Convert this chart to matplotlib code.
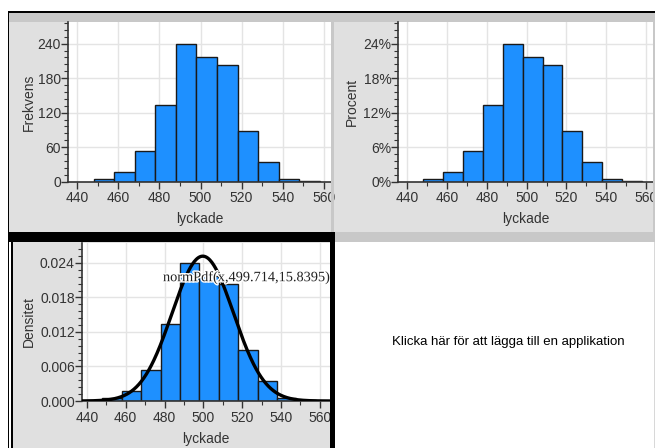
import numpy as np
import matplotlib
matplotlib.use("Agg")
import matplotlib.pyplot as plt
from matplotlib.patches import Rectangle
from matplotlib.ticker import MultipleLocator, FuncFormatter
import matplotlib.patheffects as pe

# data: histogram of "lyckade", bin width 10
bin_edges = [448, 458, 468, 478, 488, 498, 508, 518, 528, 538, 548, 558]
counts = [5, 17, 54, 134, 240, 217, 203, 88, 35, 5, 2]
norm_mu = 499.714
norm_sigma = 15.8395
x_ticks = [440, 460, 480, 500, 520, 540, 560]

W, H = 655, 448
BLUE = "#1e90ff"
PANEL = "#e0e0e0"
HEADER = "#c8c8c8"
GRID = "#e4e4e4"
INK = "#333333"

plt.rcParams["font.family"] = ["Liberation Sans", "DejaVu Sans"]

fig = plt.figure(figsize=(W / 100, H / 100), dpi=100)
fig.patch.set_facecolor("white")


def box(x0, y0, x1, y1):
    return [x0 / W, 1 - y1 / H, (x1 - x0) / W, (y1 - y0) / H]


def rect(x0, y0, x1, y1, color, z=-1):
    b = box(x0, y0, x1, y1)
    fig.add_artist(Rectangle((b[0], b[1]), b[2], b[3], transform=fig.transFigure,
                             facecolor=color, edgecolor="none", zorder=z))


# panel backgrounds
rect(9, 13, 331, 232, PANEL)
rect(334, 13, 655, 232, PANEL)
rect(9, 13, 655, 22, HEADER)
rect(335, 232, 655, 242, HEADER)
rect(12, 242, 330, 448, PANEL)
# separators and borders (drawn on top so labels get clipped like the screen)
rect(331, 13, 334, 232, HEADER, z=5)
rect(653, 22, 655, 232, HEADER, z=5)
rect(653.5, 242, 655, 448, "#d8d8d8", z=5)
rect(8, 11.5, 655, 13, "black", z=5)
rect(7.5, 12, 9, 448, "black", z=5)
rect(8, 232.5, 335, 242, "black", z=5)
rect(10.5, 232.5, 12.5, 448, "black", z=5)
rect(330, 232.5, 335, 448, "black", z=5)


def style(ax, ylim, ymajor, ylabel, fmt, xlim, label_x):
    ax.set_facecolor("white")
    ax.set_xlim(*xlim)
    ax.set_ylim(*ylim)
    for s in ("top", "right"):
        ax.spines[s].set_visible(False)
    for s in ("left", "bottom"):
        ax.spines[s].set_color(INK)
        ax.spines[s].set_linewidth(1.2)
    ax.set_xticks(x_ticks)
    ax.xaxis.set_minor_locator(MultipleLocator(10))
    ax.yaxis.set_major_locator(MultipleLocator(ymajor))
    ax.yaxis.set_minor_locator(MultipleLocator(ymajor / 5))
    ax.yaxis.set_major_formatter(FuncFormatter(fmt))
    ax.tick_params(which="major", length=5, width=1, color=INK, labelsize=10,
                   labelcolor=INK, pad=2)
    ax.tick_params(axis="y", which="major", pad=0)
    ax.tick_params(which="minor", length=3, width=0.8, color=INK)
    ax.grid(True, which="major", color=GRID, linewidth=1)
    ax.set_axisbelow(True)
    ax.set_xlabel("lyckade", fontsize=10, color=INK, labelpad=5)
    ax.set_ylabel(ylabel, fontsize=10, color=INK)
    ax.yaxis.set_label_coords(label_x, 0.5)


counts_arr = np.array(counts, dtype=float)
n_total = counts_arr.sum()
left = np.array(bin_edges[:-1])
width = np.diff(bin_edges)

# Frekvens
ax1 = fig.add_axes(box(68, 22, 331, 181.7))
ax1.bar(left, counts_arr, width=width, align="edge", color=BLUE,
        edgecolor="#1a1a1a", linewidth=1, zorder=2)
style(ax1, (0, 277.7), 60, "Frekvens", lambda v, p: f"{v:.0f}", (435.5, 563.5), -0.124)

# Procent
ax2 = fig.add_axes(box(398.3, 22, 653, 181.7))
ax2.bar(left, counts_arr / n_total * 100, width=width, align="edge", color=BLUE,
        edgecolor="#1a1a1a", linewidth=1, zorder=2)
style(ax2, (0, 27.77), 6, "Procent", lambda v, p: f"{v:.0f}%", (435.5, 563.5), -0.156)

# Densitet with normPdf
ax3 = fig.add_axes(box(81.7, 242.7, 330, 401))
ax3.bar(left, counts_arr / (n_total * width), width=width, align="edge", color=BLUE,
        edgecolor="#1a1a1a", linewidth=1, zorder=2)
style(ax3, (0, 0.02753), 0.006, "Densitet", lambda v, p: f"{v:.3f}", (437.3, 565.3), -0.185)
xs = np.linspace(437.3, 565.3, 400)
pdf = np.exp(-0.5 * ((xs - norm_mu) / norm_sigma) ** 2) / (norm_sigma * np.sqrt(2 * np.pi))
ax3.plot(xs, pdf, color="black", linewidth=2.4, zorder=3)
ax3.text(479.2, 0.0215, f"normPdf(x,{norm_mu},{norm_sigma})", family=["Liberation Serif", "DejaVu Serif"],
         fontsize=10.3, color="#222222", ha="left", va="center", zorder=4,
         path_effects=[pe.withStroke(linewidth=2, foreground="white")])

fig.text(508 / W, 1 - 342 / H, "Klicka här för att lägga till en applikation",
         fontsize=9.5, color="black", ha="center", va="center")

fig.savefig("out.png", dpi=100)
